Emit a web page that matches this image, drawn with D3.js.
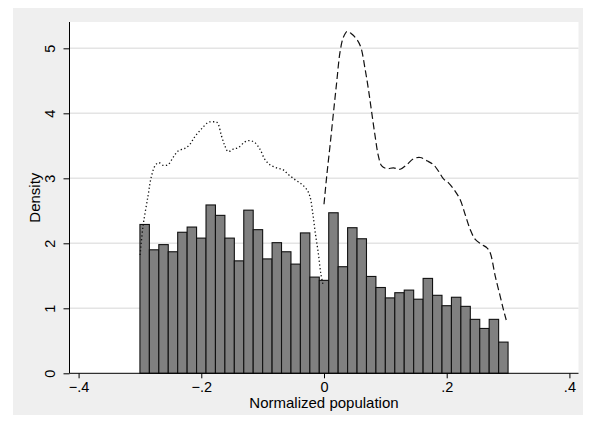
<!DOCTYPE html>
<html>
<head>
<meta charset="utf-8">
<script src="https://cdn.jsdelivr.net/npm/d3@7"></script>
<style>
  html, body { margin: 0; padding: 0; background: #ffffff; }
  svg { display: block; }
  text { font-family: "Liberation Sans", Arial, sans-serif; fill: #000; }
</style>
</head>
<body>
<svg id="chart" width="594" height="425"></svg>
<script>
// ---- data ----
const histStart = -0.3;
const histEnd = 0.3;
const histDensity = [
  2.29, 1.90, 1.98, 1.87, 2.17, 2.25, 2.08, 2.59, 2.43, 2.08,
  1.73, 2.51, 2.21, 1.76, 2.01, 1.87, 1.68, 2.16, 1.48, 1.43,
  2.47, 1.64, 2.24, 2.07, 1.49, 1.32, 1.16, 1.24, 1.28, 1.14,
  1.46, 1.20, 1.04, 1.17, 1.03, 0.83, 0.69, 0.83, 0.48
];

// density estimate left of zero (dotted)
const leftX = [-0.2997, -0.2950, -0.2868, -0.2813, -0.2743, -0.2689, -0.2624, -0.2542, -0.2460, -0.2379,
  -0.2270, -0.2188, -0.2106, -0.1997, -0.1889, -0.1807, -0.1742, -0.1670, -0.1616, -0.1562,
  -0.1480, -0.1399, -0.1290, -0.1208, -0.1127, -0.1045, -0.0963, -0.0882, -0.0772, -0.0664,
  -0.0583, -0.0473, -0.0364, -0.0282, -0.0229, -0.0184, -0.0142, -0.0093, -0.0053, -0.0011];
const leftY = [1.82, 2.26, 2.73, 3.03, 3.21, 3.24, 3.20, 3.21, 3.32, 3.42,
  3.46, 3.52, 3.64, 3.76, 3.86, 3.87, 3.86, 3.65, 3.50, 3.41,
  3.45, 3.47, 3.56, 3.58, 3.55, 3.45, 3.29, 3.21, 3.16, 3.13,
  3.06, 2.98, 2.91, 2.83, 2.72, 2.47, 2.16, 1.85, 1.54, 1.34];

// density estimate right of zero (dashed)
const rightX = [0.0000, 0.0044, 0.0098, 0.0152, 0.0207, 0.0261, 0.0316, 0.0380, 0.0452, 0.0533,
  0.0599, 0.0670, 0.0724, 0.0778, 0.0833, 0.0887, 0.0941, 0.1023, 0.1132, 0.1241,
  0.1350, 0.1458, 0.1567, 0.1676, 0.1785, 0.1866, 0.1948, 0.2029, 0.2139, 0.2220,
  0.2302, 0.2384, 0.2465, 0.2574, 0.2656, 0.2710, 0.2792, 0.2873, 0.2927, 0.2970];
const rightY = [2.60, 3.03, 3.50, 3.99, 4.48, 4.94, 5.17, 5.26, 5.22, 5.14,
  5.02, 4.68, 4.37, 4.01, 3.65, 3.34, 3.19, 3.15, 3.16, 3.14,
  3.21, 3.30, 3.32, 3.27, 3.21, 3.11, 2.99, 2.93, 2.80, 2.67,
  2.44, 2.21, 2.06, 1.98, 1.93, 1.85, 1.49, 1.18, 0.97, 0.82];

const xTicks = [-0.4, -0.2, 0, 0.2, 0.4];
const xTickLabels = ["\u2212.4", "\u2212.2", "0", ".2", ".4"];
const yTicks = [0, 1, 2, 3, 4, 5];
const yTickLabels = ["0", "1", "2", "3", "4", "5"];
const xTitle = "Normalized population";
const yTitle = "Density";

// ---- layout ----
const svg = d3.select("#chart");
const W = 594, H = 425;
const plot = { left: 69.5, right: 578.5, top: 22, bottom: 373.3 };

const x = d3.scaleLinear().domain([-0.4148, 0.4148]).range([plot.left, plot.right]);
const y = d3.scaleLinear().domain([0, 5.405]).range([plot.bottom, plot.top]);

// outer background
svg.append("rect").attr("x", 0).attr("y", 0).attr("width", W).attr("height", H).attr("fill", "#ffffff");
svg.append("rect").attr("x", 13).attr("y", 8).attr("width", 570).attr("height", 407).attr("fill", "#efefef");
// plot region
svg.append("rect").attr("x", plot.left).attr("y", plot.top)
  .attr("width", plot.right - plot.left).attr("height", plot.bottom - plot.top).attr("fill", "#ffffff");

// gridlines
svg.append("g").selectAll("line").data(yTicks.filter(d => d > 0)).join("line")
  .attr("x1", plot.left).attr("x2", plot.right)
  .attr("y1", d => y(d)).attr("y2", d => y(d))
  .attr("stroke", "#e4e4e4").attr("stroke-width", 1.6);

// histogram bars
const nb = histDensity.length;
const bw = (histEnd - histStart) / nb;
const bars = histDensity.map((v, i) => ({ x0: histStart + i * bw, x1: histStart + (i + 1) * bw, v }));
svg.append("g").selectAll("rect").data(bars).join("rect")
  .attr("x", d => x(d.x0))
  .attr("width", d => x(d.x1) - x(d.x0))
  .attr("y", d => y(d.v))
  .attr("height", d => y(0) - y(d.v))
  .attr("fill", "#808080")
  .attr("stroke", "#111")
  .attr("stroke-width", 1.1);

// density lines
const line = d3.line().x(d => x(d[0])).y(d => y(d[1])).curve(d3.curveCatmullRom.alpha(0.5));
svg.append("path")
  .datum(leftX.map((v, i) => [v, leftY[i]]))
  .attr("d", line).attr("fill", "none")
  .attr("stroke", "#111").attr("stroke-width", 1.3)
  .attr("stroke-dasharray", "1.3,2.4");
svg.append("path")
  .datum(rightX.map((v, i) => [v, rightY[i]]))
  .attr("d", line).attr("fill", "none")
  .attr("stroke", "#111").attr("stroke-width", 1.2)
  .attr("stroke-dasharray", "7,3.5");

// axes
const xAxis = d3.axisBottom(x).tickValues(xTicks).tickSize(5).tickPadding(3)
  .tickFormat((d, i) => xTickLabels[i]);
const gx = svg.append("g").attr("transform", `translate(0,${plot.bottom})`).call(xAxis);
gx.select(".domain").attr("d", `M${plot.left},0H${plot.right}`).attr("stroke", "#000");
gx.selectAll(".tick line").attr("stroke", "#000");
gx.selectAll(".tick text").attr("font-size", 14.5).attr("font-family", "Liberation Sans, Arial, sans-serif").attr("fill", "#000");

const yAxis = d3.axisLeft(y).tickValues(yTicks).tickSize(6).tickPadding(0)
  .tickFormat((d, i) => yTickLabels[i]);
const gy = svg.append("g").attr("transform", `translate(${plot.left},0)`).call(yAxis);
gy.select(".domain").attr("d", `M0,${plot.top}V${plot.bottom}`).attr("stroke", "#000");
gy.selectAll(".tick line").attr("stroke", "#000");
gy.selectAll(".tick text")
  .attr("font-size", 14.5).attr("font-family", "Liberation Sans, Arial, sans-serif").attr("fill", "#000")
  .attr("x", null).attr("dy", null)
  .attr("text-anchor", "middle")
  .attr("transform", "translate(-15,0) rotate(-90)");

// titles
svg.append("text").attr("x", (plot.left + plot.right) / 2).attr("y", 408)
  .attr("text-anchor", "middle").attr("font-size", 15).text(xTitle);
svg.append("text").attr("transform", `translate(39.5,${(plot.top + plot.bottom) / 2}) rotate(-90)`)
  .attr("text-anchor", "middle").attr("font-size", 15).text(yTitle);
</script>
</body>
</html>
